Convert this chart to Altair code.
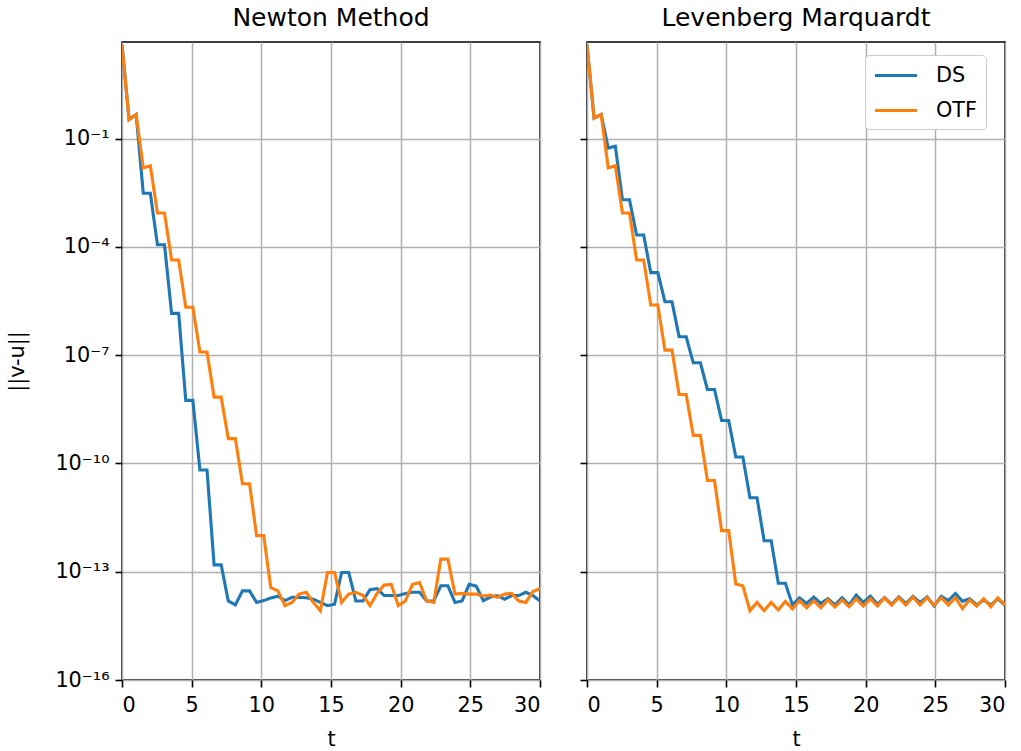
import altair as alt
import numpy as np
import pandas as pd

# time grid (60 samples over [0, 30])
T = list(np.linspace(0, 30, 60))

# log10 of ||v-u||
NEWTON_DS = [1.6, -0.47, -0.33, -2.51, -2.51, -3.94, -3.94, -5.84, -5.84, -8.25,
             -8.25, -10.18, -10.18, -12.81, -12.81, -13.81, -13.92, -13.53, -13.53, -13.85,
             -13.8, -13.73, -13.68, -13.8, -13.71, -13.71, -13.72, -13.76, -13.85, -13.94,
             -13.9, -13.02, -13.02, -13.81, -13.81, -13.5, -13.47, -13.66, -13.66, -13.66,
             -13.6, -13.57, -13.57, -13.81, -13.81, -13.39, -13.39, -13.85, -13.81, -13.35,
             -13.4, -13.8, -13.7, -13.66, -13.76, -13.66, -13.66, -13.57, -13.66, -13.81]
NEWTON_OTF = [1.6, -0.47, -0.33, -1.81, -1.75, -3.06, -3.06, -4.36, -4.36, -5.67,
              -5.67, -6.91, -6.91, -8.16, -8.16, -9.31, -9.31, -10.56, -10.56, -12.0,
              -12.0, -13.44, -13.53, -13.94, -13.85, -13.62, -13.57, -13.85, -14.08, -13.02,
              -13.02, -13.85, -13.62, -13.57, -13.65, -13.94, -13.6, -13.37, -13.35, -13.94,
              -13.81, -13.35, -13.3, -13.81, -13.85, -12.65, -12.65, -13.62, -13.6, -13.62,
              -13.62, -13.67, -13.65, -13.71, -13.62, -13.6, -13.81, -13.85, -13.55, -13.47]
LM_DS = [1.6, -0.43, -0.33, -1.26, -1.21, -2.69, -2.69, -3.67, -3.67, -4.71,
         -4.71, -5.52, -5.52, -6.49, -6.49, -7.21, -7.21, -7.95, -7.95, -8.81,
         -8.81, -9.82, -9.82, -10.95, -10.95, -12.14, -12.14, -13.32, -13.32, -13.92,
         -13.72, -13.88, -13.7, -13.88, -13.75, -13.92, -13.72, -13.92, -13.65, -13.85,
         -13.68, -13.9, -13.72, -13.9, -13.7, -13.88, -13.68, -13.85, -13.7, -13.95,
         -13.68, -13.8, -13.6, -13.82, -13.75, -13.92, -13.78, -13.92, -13.75, -13.93]
LM_OTF = [1.6, -0.43, -0.33, -1.81, -1.75, -3.06, -3.06, -4.36, -4.36, -5.61,
          -5.61, -6.86, -6.86, -8.09, -8.09, -9.22, -9.22, -10.47, -10.47, -11.86,
          -11.86, -13.34, -13.39, -14.08, -13.85, -14.08, -13.85, -14.06, -13.82, -14.03,
          -13.8, -14.0, -13.8, -14.0, -13.78, -13.98, -13.78, -13.97, -13.75, -13.95,
          -13.75, -13.95, -13.72, -13.93, -13.72, -13.92, -13.7, -13.92, -13.72, -13.93,
          -13.72, -13.92, -13.72, -14.02, -13.78, -13.95, -13.75, -13.97, -13.72, -13.92]

SERIES = ["DS", "OTF"]
COLORS = ["#1f77b4", "#ff7f0e"]
TITLES = ["Newton Method", "Levenberg Marquardt"]
X_TICKS = [0, 5, 10, 15, 20, 25, 30]
Y_TICK_EXP = [-16, -13, -10, -7, -4, -1]
Y_TICK_LABELS = ["10⁻¹⁶", "10⁻¹³", "10⁻¹⁰", "10⁻⁷", "10⁻⁴", "10⁻¹"]
Y_TOP_EXP = 1.68

FONT = "DejaVu Sans"
FS = 20.8


def frame(ds, otf):
    rows = []
    for name, vals in zip(SERIES, [ds, otf]):
        for t, v in zip(T, vals):
            rows.append({"t": t, "value": 10.0 ** v, "series": name})
    return pd.DataFrame(rows)


y_values = [10.0 ** e for e in Y_TICK_EXP]
label_expr = ""
for e, lab in zip(Y_TICK_EXP[:-1], Y_TICK_LABELS[:-1]):
    label_expr += f"datum.value < {10.0 ** (e + 1)} ? '{lab}' : "
label_expr += f"'{Y_TICK_LABELS[-1]}'"


def panel(df, title, left):
    y_axis = alt.Axis(
        values=y_values,
        labelExpr=label_expr,
        labels=left,
        title="||v-u||" if left else None,
        titleFontSize=FS,
        titleFontWeight="normal",
        titleFont=FONT,
        titlePadding=27,
    )
    color = alt.Color(
        "series:N",
        scale=alt.Scale(domain=SERIES, range=COLORS),
        legend=None if left else alt.Legend(
            title=None,
            orient="none",
            legendX=278,
            legendY=13,
            symbolType="M-1,0H3",
            symbolSize=441,
            symbolStrokeWidth=3.1,
            labelFontSize=FS,
            labelFont=FONT,
            labelColor="black",
            labelOffset=38,
            labelExpr="datum.label + '\u00a0\u00a0\u00a0\u00a0'",
            rowPadding=12,
            padding=8,
            strokeColor="#cccccc",
            fillColor="white",
            cornerRadius=4,
            labelLimit=300,
        ),
    )
    return (
        alt.Chart(df)
        .mark_line(strokeWidth=3.1, clip=True)
        .encode(
            x=alt.X(
                "t:Q",
                scale=alt.Scale(domain=[0, 30], nice=False),
                axis=alt.Axis(values=X_TICKS, title="t", titleFontSize=FS,
                              titleFontWeight="normal", titleFont=FONT, titlePadding=15,
                              labelPadding=8),
            ),
            y=alt.Y(
                "value:Q",
                scale=alt.Scale(type="log", domain=[1e-16, 10.0 ** Y_TOP_EXP], nice=False),
                axis=y_axis,
            ),
            color=color,
            order=alt.Order("t:Q"),
        )
        .properties(
            width=418,
            height=638,
            title=alt.TitleParams(title, fontSize=25, font=FONT, fontWeight="normal",
                                  anchor="middle", offset=11, color="black"),
        )
    )


left = panel(frame(NEWTON_DS, NEWTON_OTF), TITLES[0], True)
right = panel(frame(LM_DS, LM_OTF), TITLES[1], False)

chart = (
    alt.hconcat(left, right, spacing=36)
    .resolve_legend(color="independent")
    .properties(padding={"left": 6, "top": 5, "right": 0, "bottom": 0}, background="white")
    .configure_view(stroke="black", strokeWidth=1.6)
    .configure_axis(
        grid=True,
        gridColor="#b0b0b0",
        gridWidth=1.5,
        domain=False,
        tickColor="black",
        tickSize=7,
        tickWidth=1.6,
        labelFontSize=FS,
        labelFont=FONT,
        labelColor="black",
        labelPadding=6,
        titleColor="black",
    )
)

chart.save("out.html", embed_options={"renderer": "svg", "actions": False})
